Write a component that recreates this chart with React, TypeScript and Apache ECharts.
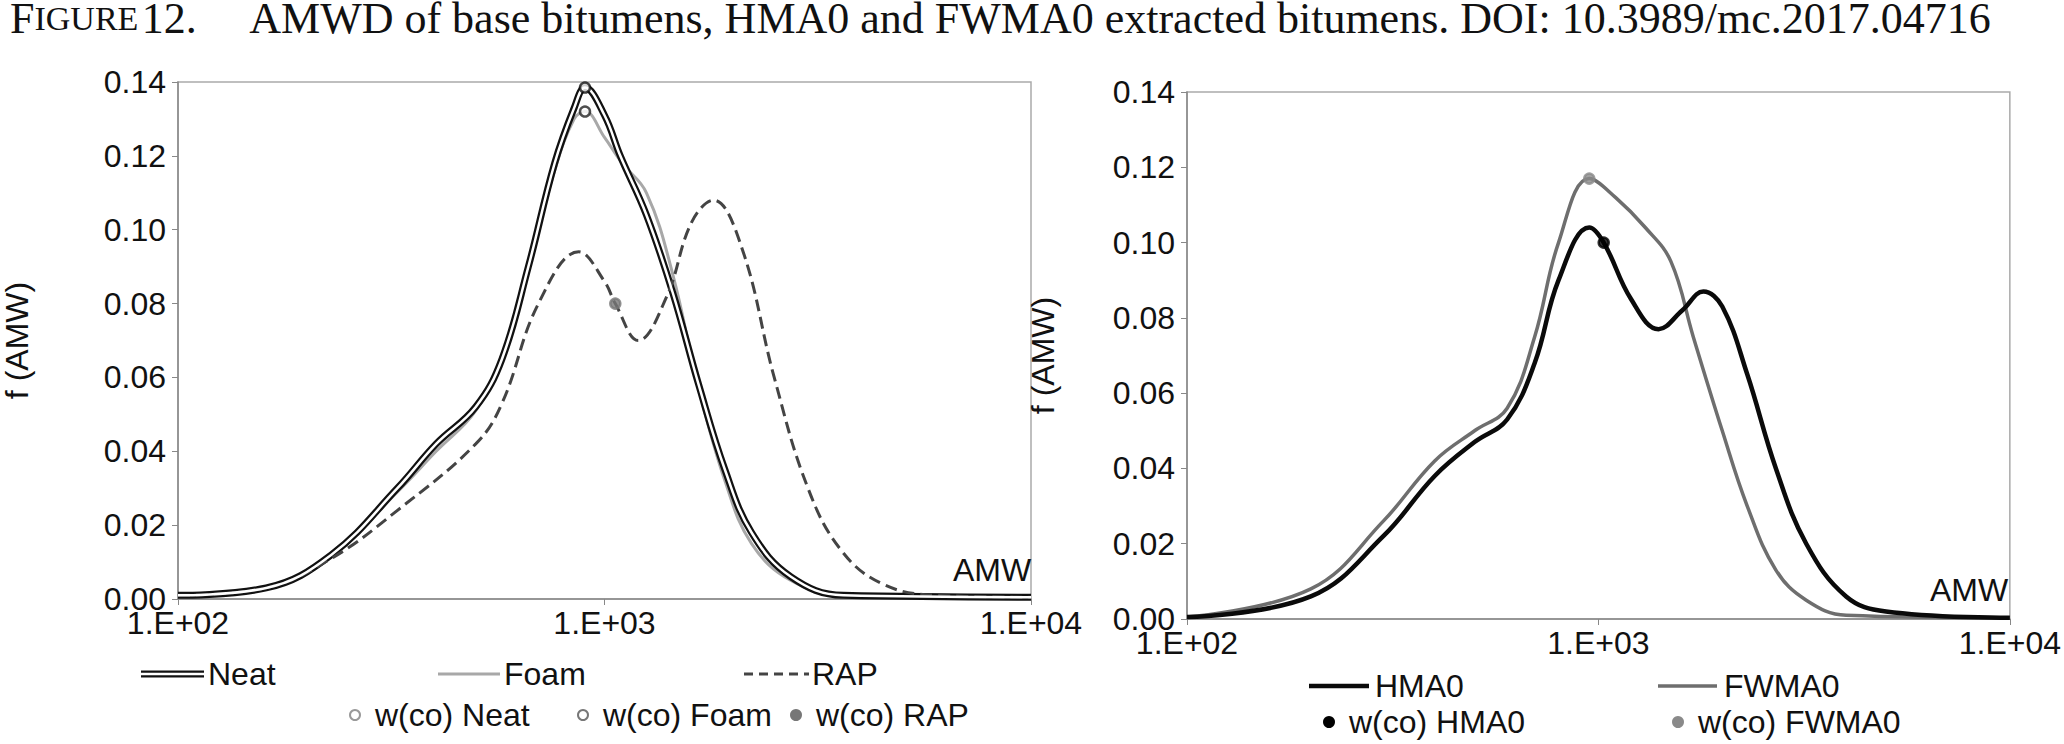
import { useEffect, useRef } from "react";
import * as echarts from "echarts";

// left panel: base bitumens, [AMW, f(AMW)]
const neat = [[100, 0.001], [161, 0.003], [229, 0.012], [327, 0.03], [403, 0.042], [499, 0.052], [575, 0.065], [663, 0.09], [764, 0.118], [849, 0.133], [900, 0.1385], [1000, 0.131], [1089, 0.12], [1254, 0.104], [1445, 0.083], [1663, 0.058], [1916, 0.035], [2212, 0.018], [2736, 0.006], [3630, 0.001], [10000, 0.0005]];
const foam = [[100, 0.001], [161, 0.003], [229, 0.012], [327, 0.029], [403, 0.04], [499, 0.051], [575, 0.066], [663, 0.09], [764, 0.116], [849, 0.13], [900, 0.132], [1000, 0.125], [1100, 0.118], [1254, 0.11], [1445, 0.088], [1663, 0.057], [1916, 0.032], [2212, 0.015], [2736, 0.005], [3630, 0.001], [10000, 0.0005]];
const rap = [[100, 0.001], [161, 0.003], [229, 0.011], [327, 0.024], [499, 0.042], [575, 0.053], [700, 0.08], [870, 0.094], [1000, 0.086], [1060, 0.08], [1200, 0.07], [1400, 0.082], [1600, 0.102], [1800, 0.108], [2100, 0.095], [2500, 0.06], [3000, 0.03], [3600, 0.013], [4500, 0.004], [6000, 0.001], [10000, 0.0005]];
const neatCo = [[900, 0.1385]];
const foamCo = [[900, 0.132]];
const rapCo = [[1060, 0.08]];

// right panel: extracted bitumens
const hma0 = [[100, 0.0005], [200, 0.006], [300, 0.022], [400, 0.038], [500, 0.047], [600, 0.053], [700, 0.068], [800, 0.09], [950, 0.104], [1030, 0.1], [1200, 0.085], [1400, 0.077], [1600, 0.082], [1800, 0.087], [2000, 0.083], [2300, 0.065], [2700, 0.04], [3200, 0.02], [4000, 0.006], [5000, 0.002], [10000, 0.0003]];
const fwma0 = [[100, 0.0005], [200, 0.008], [300, 0.026], [400, 0.042], [500, 0.05], [600, 0.056], [700, 0.075], [800, 0.1], [950, 0.117], [1100, 0.112], [1300, 0.104], [1500, 0.095], [1700, 0.075], [2000, 0.05], [2300, 0.03], [2700, 0.013], [3200, 0.005], [4000, 0.001], [10000, 0.0003]];
const hma0Co = [[1030, 0.1]];
const fwma0Co = [[950, 0.117]];

const FONT = "'Liberation Sans Narrow', 'Liberation Sans', Arial, sans-serif";
const FS = 32;
const TXT = { fontFamily: FONT, fontSize: FS, fill: "#111" };
const SERIF = "'Liberation Serif', 'Times New Roman', serif";

const xAxis = (gridIndex: number) => ({
  type: "log",
  gridIndex,
  min: 100,
  max: 10000,
  logBase: 10,
  axisLine: { lineStyle: { color: "#888", width: 1.5 } },
  axisTick: { show: true, length: 6, lineStyle: { color: "#888" } },
  axisLabel: {
    color: "#111",
    fontFamily: FONT,
    fontSize: FS,
    margin: 8,
    formatter: (v: number) => "1.E+0" + Math.round(Math.log10(v)),
  },
  splitLine: { show: false },
  minorTick: { show: false },
});

const yAxis = (gridIndex: number, gap: number) => ({
  type: "value",
  gridIndex,
  min: 0,
  max: 0.14,
  interval: 0.02,
  name: "f (AMW)",
  nameLocation: "middle",
  nameGap: gap,
  nameTextStyle: { color: "#111", fontFamily: FONT, fontSize: FS },
  axisLine: { show: true, lineStyle: { color: "#888", width: 1.5 } },
  axisTick: { show: true, length: 6, lineStyle: { color: "#888" } },
  axisLabel: {
    color: "#111",
    fontFamily: FONT,
    fontSize: FS,
    margin: 12,
    formatter: (v: number) => v.toFixed(2),
  },
  splitLine: { show: false },
});

const line = (data: number[][], idx: number, color: string, width: number, type = "solid", z = 2) => ({
  type: "line",
  xAxisIndex: idx,
  yAxisIndex: idx,
  data,
  smooth: 0.4,
  showSymbol: false,
  z,
  lineStyle: { color, width, type },
});

const dot = (data: number[][], idx: number, fill: string, stroke: string) => ({
  type: "scatter",
  xAxisIndex: idx,
  yAxisIndex: idx,
  data,
  symbolSize: 10,
  z: 10,
  itemStyle: { color: fill, borderColor: stroke, borderWidth: 2.5 },
});

const legLine = (x1: number, x2: number, y: number, stroke: string, width: number, dash?: number[]) => ({
  type: "line",
  shape: { x1, y1: y, x2, y2: y },
  style: { stroke, lineWidth: width, lineDash: dash },
});
const legText = (x: number, y: number, text: string) => ({
  type: "text",
  x,
  y,
  style: { ...TXT, text, textVerticalAlign: "middle" },
});
const legDot = (x: number, y: number, fill: string, stroke: string) => ({
  type: "circle",
  shape: { cx: x, cy: y, r: 5 },
  style: { fill, stroke, lineWidth: 2 },
});

export default function App() {
  const ref = useRef<HTMLDivElement>(null);

  useEffect(() => {
    if (!ref.current) return;
    const chart = echarts.init(ref.current, undefined, { renderer: "svg" });
    chart.setOption({
      animation: false,
      backgroundColor: "#fff",
      grid: [
        { left: 175, top: 82, width: 856, height: 517, show: true, borderColor: "#aaa", borderWidth: 1.5, backgroundColor: "transparent" },
        { left: 1187, top: 92, width: 823, height: 527, show: true, borderColor: "#aaa", borderWidth: 1.5, backgroundColor: "transparent" },
      ],
      xAxis: [xAxis(0), xAxis(1)],
      yAxis: [yAxis(0, 145), yAxis(1, 128)],
      series: [
        line(foam, 0, "#a8a8a8", 3, "solid", 2),
        line(neat, 0, "#111", 7, "solid", 3),
        line(neat, 0, "#fff", 2.5, "solid", 4),
        line(rap, 0, "#444", 3, "dashed", 3),
        dot(neatCo, 0, "#fff", "#111"),
        dot(foamCo, 0, "#fff", "#222"),
        dot(rapCo, 0, "#777", "#777"),
        line(fwma0, 1, "#6e6e6e", 3.5, "solid", 2),
        line(hma0, 1, "#0a0a0a", 4.5, "solid", 3),
        dot(hma0Co, 1, "#000", "#000"),
        dot(fwma0Co, 1, "#8a8a8a", "#8a8a8a"),
      ],
      graphic: [
        {
          type: "text",
          x: 10,
          y: 18,
          style: {
            text: "{b|F}{s|IGURE} {b|12.     AMWD of base bitumens, HMA0 and FWMA0 extracted bitumens. DOI: 10.3989/mc.2017.04716}",
            textVerticalAlign: "middle",
            rich: {
              b: { fontFamily: SERIF, fontSize: 44, fill: "#111" },
              s: { fontFamily: SERIF, fontSize: 34, fill: "#111" },
            },
          },
        },
        { type: "text", x: 953, y: 570, style: { ...TXT, text: "AMW", textVerticalAlign: "middle" } },
        { type: "text", x: 1930, y: 590, style: { ...TXT, text: "AMW", textVerticalAlign: "middle" } },
        // left legend
        legLine(141, 204, 674, "#111", 7),
        legLine(141, 204, 674, "#fff", 2.5),
        legText(208, 674, "Neat"),
        legLine(438, 500, 674, "#a8a8a8", 3),
        legText(504, 674, "Foam"),
        legLine(744, 809, 674, "#444", 3, [9, 6]),
        legText(812, 674, "RAP"),
        legDot(355, 715, "#fff", "#999"),
        legText(375, 715, "w(co) Neat"),
        legDot(583, 715, "#fff", "#777"),
        legText(603, 715, "w(co) Foam"),
        legDot(796, 715, "#777", "#777"),
        legText(816, 715, "w(co) RAP"),
        // right legend
        legLine(1309, 1369, 686, "#0a0a0a", 4.5),
        legText(1375, 686, "HMA0"),
        legLine(1658, 1717, 686, "#6e6e6e", 3.5),
        legText(1724, 686, "FWMA0"),
        legDot(1329, 722, "#000", "#000"),
        legText(1349, 722, "w(co) HMA0"),
        legDot(1678, 722, "#8a8a8a", "#8a8a8a"),
        legText(1698, 722, "w(co) FWMA0"),
      ],
    });
    return () => chart.dispose();
  }, []);

  return <div ref={ref} style={{ position: "fixed", left: 0, top: 0, width: 2064, height: 744 }} />;
}
